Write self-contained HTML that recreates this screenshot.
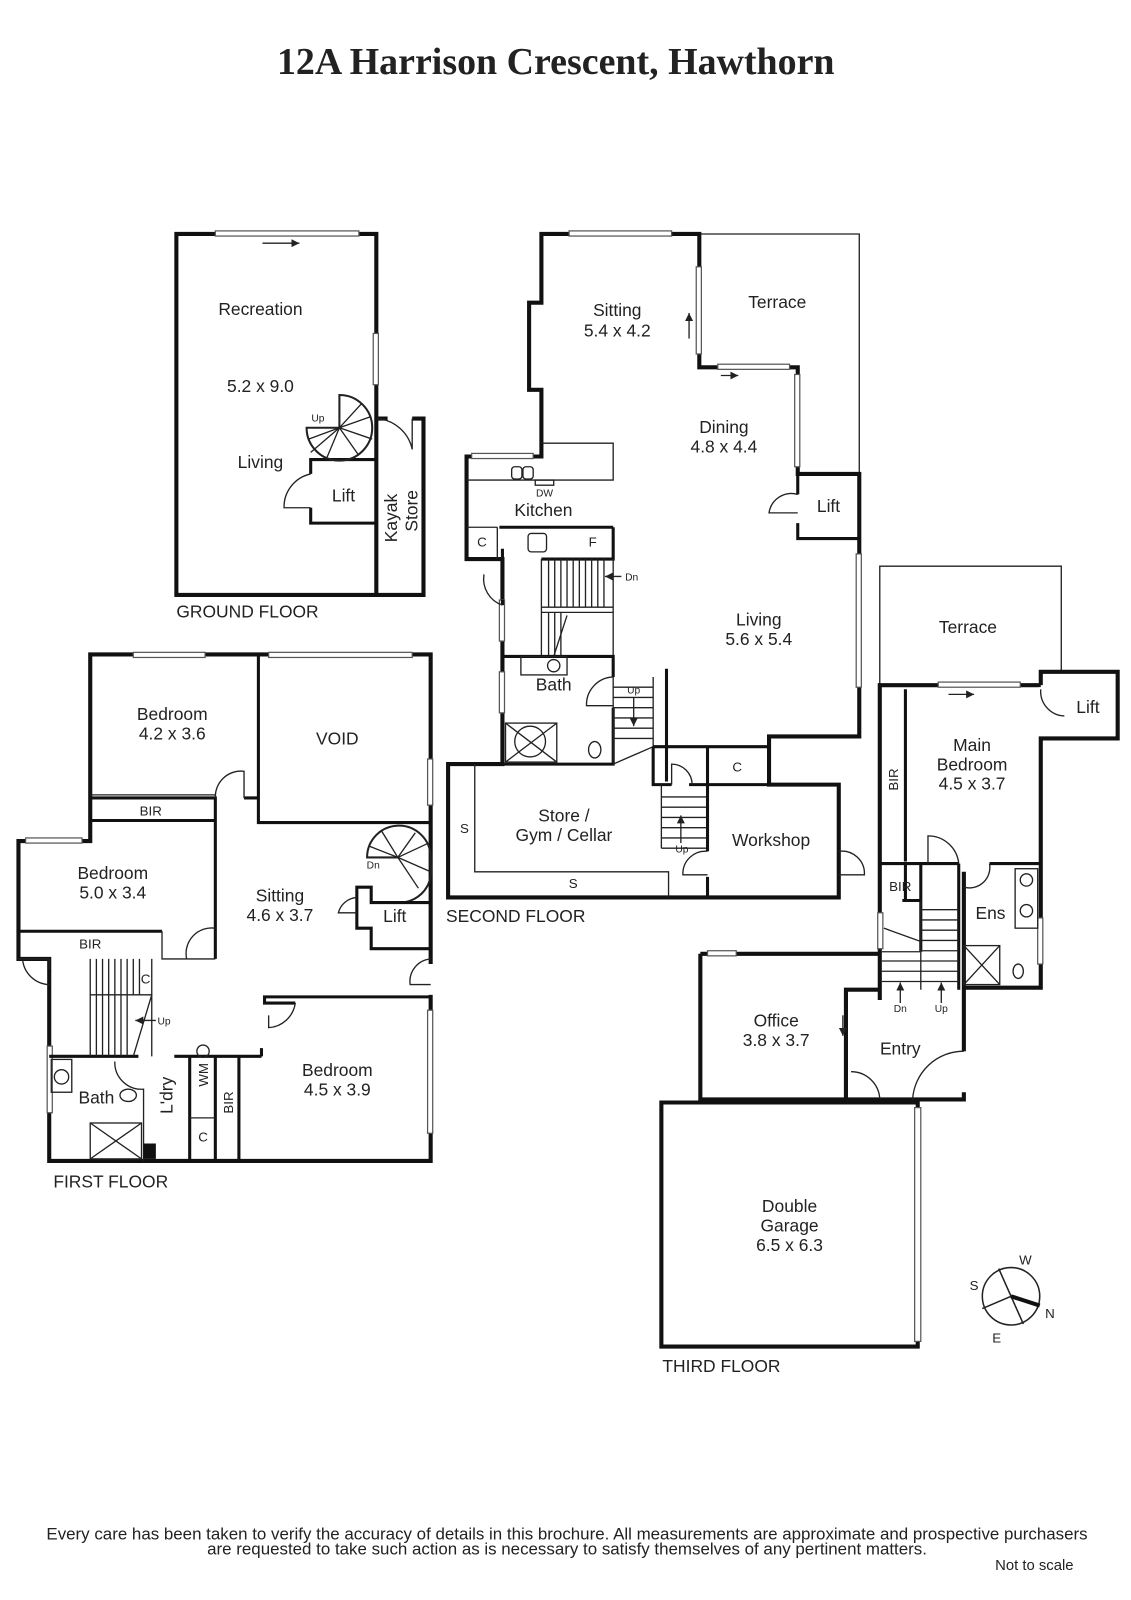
<!DOCTYPE html>
<html><head><meta charset="utf-8">
<style>
html,body{margin:0;padding:0;background:#fff;}
svg{display:block;}
text{font-family:"Liberation Sans",sans-serif;fill:#222;}
.w{fill:none;stroke:#111;stroke-width:4;stroke-linejoin:miter;}
.t{fill:none;stroke:#222;stroke-width:1.3;}
.m{fill:none;stroke:#222;stroke-width:2;}
.win{fill:#fff;stroke:#555;stroke-width:1.2;}
.r{font-size:17px;text-anchor:middle;}
.s{font-size:13px;text-anchor:middle;}
.x{font-size:10px;text-anchor:middle;}
.f{font-size:17px;}
</style></head>
<body>
<svg width="1131" height="1600" viewBox="0 0 1103 1560" xmlns="http://www.w3.org/2000/svg">
<defs><marker id="ar" markerWidth="8" markerHeight="8" refX="6" refY="3" orient="auto"><path d="M0,0 L6,3 L0,6 z" fill="#222"/></marker></defs>
<text x="542" y="72" font-weight="bold" font-size="37" text-anchor="middle" style="font-family:'Liberation Serif',serif">12A Harrison Crescent, Hawthorn</text>

<!-- GROUND FLOOR -->
<path class="w" d="M367,408 V228 H172 V580 H413 V408 H402 M367,408 H378 M367,408 V580"/>
<rect class="win" x="210" y="225" width="140" height="5"/>
<rect class="win" x="364" y="325" width="5" height="50"/>
<line class="t" x1="256" y1="237" x2="292" y2="237" marker-end="url(#ar)"/>
<path class="w" d="M367,448 H303 V462 M303,495 V510 H367" style="stroke-width:3"/>
<path class="t" d="M303,462 A33,33 0 0 0 277,495 H303"/>
<path class="t" d="M367,408 A38,38 0 0 1 402,438 V408"/>
<path class="m" d="M331,385 A32,32 0 0 1 331,449 A32,32 0 0 1 299,417 H331 Z"/>
<path class="t" d="M331,417 L353,393 M331,417 L362,406 M331,417 L363,428 M331,417 L350,444 M331,417 L318,448 M331,417 L303,441 M331,417 L301,428"/>
<text class="x" x="310" y="411">Up</text>
<text class="r" x="254" y="307">Recreation</text>
<text class="r" x="254" y="382">5.2 x 9.0</text>
<text class="r" x="254" y="456">Living</text>
<text class="r" x="335" y="489">Lift</text>
<text class="r" transform="translate(389,505) rotate(-90)" y="-2">Kayak</text>
<text class="r" transform="translate(407,498) rotate(-90)" y="0">Store</text>
<text class="f" x="172" y="602">GROUND FLOOR</text>

<!-- SECOND FLOOR -->
<path class="t" d="M682,228 H838 V462"/>
<path class="t" d="M858,668 V552 H1035 V655"/>
<path class="w" d="M682,228 H528 V295 H516 V380 H528 V445 H455 V545 H490 V745 H437 V875 H818 V765 H750 V718 H838 V462 H778 V358 H682 Z"/>
<rect class="win" x="555" y="225" width="100" height="5"/>
<rect class="win" x="679" y="260" width="5" height="85"/>
<rect class="win" x="700" y="355" width="70" height="5"/>
<rect class="win" x="775" y="365" width="5" height="90"/>
<rect class="win" x="835" y="540" width="5" height="130"/>
<rect class="win" x="460" y="442" width="60" height="5"/>
<rect class="win" x="487" y="585" width="5" height="40"/>
<rect class="win" x="487" y="655" width="5" height="40"/>
<line class="t" x1="672" y1="330" x2="672" y2="305" marker-end="url(#ar)"/>
<line class="t" x1="703" y1="366" x2="720" y2="366" marker-end="url(#ar)"/>
<path class="t" d="M528,432 H598 V468 H455"/>
<rect class="t" x="499" y="455" width="10" height="12" rx="3"/><rect class="t" x="510" y="455" width="10" height="12" rx="3"/>
<rect class="t" x="522" y="468" width="18" height="5"/>
<path class="w" d="M455,545 H490 V535 M598,514 V545 H528 V545 M487,514 H598" style="stroke-width:3"/>
<path class="t" d="M485,514 V545 M455,514 H485"/>
<rect class="t" x="515" y="520" width="18" height="18" rx="3"/>
<path class="w" d="M490,545 V557 M490,590 V585" style="stroke-width:3"/>
<path class="t" d="M472,560 A27,27 0 0 0 490,590"/>
<path class="t" d="M528,545 V640 M598,545 V640 M528,592 H598 M528,597 H598 M553,600 L540,640"/>
<path class="t" d="M535,545 V592 M541,545 V592 M547,545 V592 M553,545 V592 M559,545 V592 M565,545 V592 M571,545 V592 M577,545 V592 M583,545 V592 M589,545 V592 M535,597 V640 M541,597 V640 M547,597 V640"/>
<line class="t" x1="606" y1="562" x2="590" y2="562" marker-end="url(#ar)"/><text class="x" x="616" y="566">Dn</text>
<path class="w" d="M490,640 H598 V660 M598,690 V745 H490" style="stroke-width:3"/>
<path class="t" d="M598,660 A27,27 0 0 0 572,688 H598"/>
<rect class="t" x="508" y="640" width="45" height="18"/><circle class="t" cx="540" cy="649" r="6"/>
<rect class="t" x="493" y="705" width="50" height="38"/><circle class="t" cx="517" cy="723" r="15"/>
<path class="t" d="M493,705 L543,743 M543,705 L493,743"/>
<ellipse class="t" cx="580" cy="731" rx="6" ry="8"/>
<path class="t" d="M598,660 V745 M637,660 V728 M598,670 H637 M598,680 H637 M598,690 H637 M598,700 H637 M598,710 H637 M598,720 H637 M598,745 L637,728"/>
<path class="w" d="M650,652 V762 M637,728 V765 H655 M672,765 H690 V728 M690,765 H750 M637,728 H750" style="stroke-width:3"/>
<path class="t" d="M655,765 V745 A20,20 0 0 1 675,765"/>
<line class="t" x1="618" y1="680" x2="618" y2="708" marker-end="url(#ar)"/><text class="x" x="618" y="676">Up</text>
<path class="t" d="M645,777 H690 M645,787 H690 M645,797 H690 M645,807 H690 M645,817 H690 M645,827 H690 M645,765 V827"/>
<line class="t" x1="664" y1="822" x2="664" y2="795" marker-end="url(#ar)"/><text class="x" x="665" y="831">Up</text>
<path class="w" d="M690,765 V830 M690,855 V875 M818,830 V855" style="stroke-width:3"/>
<path class="t" d="M690,830 A22,22 0 0 0 666,853 H690 M818,830 A22,22 0 0 1 843,853 H818"/>
<path class="t" d="M463,745 V850 H652 V875"/>
<path class="w" d="M778,462 V482 M778,510 V525 H838" style="stroke-width:3"/>
<path class="t" d="M778,482 A22,22 0 0 0 750,500 H778"/>
<text class="r" x="602" y="308">Sitting</text><text class="r" x="602" y="328">5.4 x 4.2</text>
<text class="r" x="758" y="300">Terrace</text>
<text class="r" x="706" y="422">Dining</text><text class="r" x="706" y="441">4.8 x 4.4</text>
<text class="r" x="808" y="499">Lift</text>
<text class="x" x="531" y="484">DW</text>
<text class="r" x="530" y="503">Kitchen</text>
<text class="s" x="470" y="533">C</text><text class="s" x="578" y="533">F</text>
<text class="r" x="740" y="610">Living</text><text class="r" x="740" y="629">5.6 x 5.4</text>
<text class="r" x="540" y="673">Bath</text>
<text class="s" x="719" y="752">C</text>
<text class="r" x="550" y="801">Store /</text><text class="r" x="550" y="820">Gym / Cellar</text>
<text class="r" x="752" y="825">Workshop</text>
<text class="s" x="453" y="812">S</text><text class="s" x="559" y="866">S</text>
<text class="f" x="435" y="899">SECOND FLOOR</text>

<!-- FIRST FLOOR -->
<path class="w" d="M420,940 V638 H88 V820 H18 V935 H48 V1132 H420 V970"/>
<rect class="win" x="130" y="636" width="70" height="5"/><rect class="win" x="262" y="636" width="140" height="5"/>
<rect class="win" x="25" y="817" width="55" height="5"/><rect class="win" x="417" y="740" width="5" height="45"/>
<rect class="win" x="417" y="985" width="5" height="120"/><rect class="win" x="46" y="1020" width="5" height="65"/>
<path class="w" d="M252,638 V802 H420 M88,778 H210 V935 M88,800 H210 M238,778 H252 M18,908 H158" style="stroke-width:3"/>
<path class="t" d="M88,775 H210 M210,778 A25,25 0 0 1 238,752 V778"/>
<path class="t" d="M210,905 A25,25 0 0 0 182,935 H210 M158,908 V935 H182"/>
<path class="t" d="M18,935 H48 V945 M22,935 A27,27 0 0 0 48,960"/>
<path class="m" d="M388,805 A31,31 0 0 1 420,836 V843 A31,31 0 0 1 388,880 M388,836 H358 A31,31 0 0 1 388,805"/>
<path class="t" d="M388,836 L405,812 M388,836 L418,822 M388,836 L420,850 M388,836 L408,866 M388,836 L372,810 M388,836 L360,825"/>
<text class="x" x="364" y="847">Dn</text>
<path class="w" d="M420,880 H362 V865 H348 V905 H362 V925 H420 M348,890 V905" style="stroke-width:3"/>
<path class="t" d="M348,875 A20,20 0 0 0 330,890 H348 M420,935 A22,22 0 0 0 400,960 H420"/>
<path class="w" d="M420,972 H258 V978 H288 M255,1030 V1022 M48,1030 H135 M170,1030 H255 M185,1030 V1132 M210,1030 V1132 M233,1030 V1132" style="stroke-width:3"/>
<path class="t" d="M288,978 A28,28 0 0 1 262,1002 V990 M88,935 V1030 M148,935 V970 M88,970 H148 L130,1030 M148,970 V1030"/>
<path class="t" d="M94,970 V1030 M100,970 V1030 M106,970 V1030 M112,970 V1030 M118,970 V1030 M124,970 V1030 M94,935 V970 M100,935 V970 M106,935 V970 M112,935 V970 M118,935 V970 M124,935 V970 M130,935 V970 M136,935 V970"/>
<line class="t" x1="152" y1="995" x2="132" y2="995" marker-end="url(#ar)"/><text class="x" x="160" y="999">Up</text>
<path class="t" d="M112,1035 A26,26 0 0 0 140,1062 V1132 M185,1090 H210"/>
<rect class="t" x="50" y="1033" width="20" height="32"/><circle class="t" cx="60" cy="1050" r="7"/>
<ellipse class="t" cx="125" cy="1068" rx="8" ry="6"/>
<rect class="t" x="88" y="1095" width="50" height="35"/><path class="t" d="M88,1095 L138,1130 M138,1095 L88,1130"/>
<rect x="140" y="1115" width="12" height="15" fill="#111"/>
<text class="r" x="168" y="702">Bedroom</text><text class="r" x="168" y="721">4.2 x 3.6</text>
<text class="r" x="329" y="726">VOID</text>
<text class="s" x="147" y="795">BIR</text>
<text class="r" x="110" y="857">Bedroom</text><text class="r" x="110" y="876">5.0 x 3.4</text>
<text class="s" x="88" y="925">BIR</text>
<text class="r" x="273" y="879">Sitting</text><text class="r" x="273" y="898">4.6 x 3.7</text>
<text class="r" x="385" y="899">Lift</text>
<text class="s" x="142" y="959">C</text>
<text class="r" x="329" y="1049">Bedroom</text><text class="r" x="329" y="1068">4.5 x 3.9</text>
<text class="r" x="94" y="1076">Bath</text>
<text class="r" transform="translate(168,1068) rotate(-90)">L'dry</text>
<text class="s" transform="translate(203,1048) rotate(-90)">WM</text>
<circle class="t" cx="198" cy="1025" r="6"/>
<text class="s" transform="translate(227,1075) rotate(-90)">BIR</text>
<text class="s" x="198" y="1113">C</text>
<text class="f" x="52" y="1158">FIRST FLOOR</text>

<!-- THIRD FLOOR -->
<path class="w" d="M1015,668 H858 V975 M858,975 V965 H825 V1072 H940 V1065 M883,1072 H858 M1015,668 V655 H1090 V720 H1015 V963 H940 V850 M940,963 V1025"/>
<rect class="win" x="915" y="665" width="80" height="5"/>
<line class="t" x1="925" y1="677" x2="950" y2="677" marker-end="url(#ar)"/>
<rect class="win" x="1012" y="895" width="5" height="45"/>
<rect class="win" x="856" y="890" width="5" height="35"/>
<path class="w" d="M1015,670 V672 M1015,698 V700" style="stroke:#fff;stroke-width:5"/>
<path class="t" d="M1015,672 A24,24 0 0 0 1038,698"/>
<path class="w" d="M858,842 H935 M1015,842 H965 M883,672 V840 M880,878 H898 M898,842 V928 M935,842 V965 M883,842 V878" style="stroke-width:3"/>
<path class="t" d="M905,842 V815 A30,30 0 0 1 935,842 M965,842 A20,20 0 0 1 940,865"/>
<path class="t" d="M898,878 V965 M898,887 H935 M898,897 H935 M898,907 H935 M898,917 H935 M898,927 H935 M898,937 H935 M898,947 H935 M898,957 H935 M860,928 H898 M860,937 H898 M860,947 H898 M860,957 H898 M862,905 L898,918"/>
<line class="t" x1="878" y1="978" x2="878" y2="958" marker-end="url(#ar)"/><text class="x" x="878" y="987">Dn</text>
<line class="t" x1="918" y1="978" x2="918" y2="958" marker-end="url(#ar)"/><text class="x" x="918" y="987">Up</text>
<rect class="t" x="990" y="847" width="22" height="58"/><circle class="t" cx="1001" cy="858" r="6"/><circle class="t" cx="1001" cy="888" r="6"/>
<rect class="t" x="940" y="922" width="35" height="38"/><path class="t" d="M940,922 L975,960 M975,922 L940,960"/>
<ellipse class="t" cx="993" cy="947" rx="5" ry="7"/>
<path class="w" d="M683,930 H858 M683,930 V1072 H825 M645,1075 H895 V1313 H645 Z"/>
<rect class="win" x="690" y="927" width="28" height="5"/>
<rect class="win" x="892" y="1080" width="6" height="228"/>
<path class="t" d="M822,990 V1010" marker-end="url(#ar)"/>
<path class="t" d="M940,1025 A50,50 0 0 0 890,1072 M830,1045 A28,28 0 0 1 858,1072"/>
<text class="r" x="948" y="732">Main</text><text class="r" x="948" y="751">Bedroom</text><text class="r" x="948" y="770">4.5 x 3.7</text>
<text class="r" x="944" y="617">Terrace</text>
<text class="r" x="1061" y="695">Lift</text>
<text class="s" transform="translate(876,760) rotate(-90)">BIR</text>
<text class="s" x="878" y="869">BIR</text>
<text class="r" x="966" y="896">Ens</text>
<text class="r" x="757" y="1001">Office</text><text class="r" x="757" y="1020">3.8 x 3.7</text>
<text class="r" x="878" y="1028">Entry</text>
<text class="r" x="770" y="1182">Double</text><text class="r" x="770" y="1201">Garage</text><text class="r" x="770" y="1220">6.5 x 6.3</text>
<text class="f" x="646" y="1338">THIRD FLOOR</text>

<!-- compass -->
<circle cx="986" cy="1264" r="28" fill="none" stroke="#222" stroke-width="1.5"/>
<line x1="974" y1="1237" x2="998" y2="1291" stroke="#222" stroke-width="1.5"/>
<line x1="958" y1="1276" x2="986" y2="1264" stroke="#222" stroke-width="1.5"/>
<line x1="986" y1="1264" x2="1014" y2="1273" stroke="#111" stroke-width="4"/>
<text class="s" font-size="16" x="1000" y="1233">W</text><text class="s" x="950" y="1258" font-size="16">S</text>
<text class="s" x="1024" y="1285" font-size="16">N</text><text class="s" x="972" y="1309" font-size="16">E</text>

<text x="553" y="1501" font-size="16.5" text-anchor="middle">Every care has been taken to verify the accuracy of details in this brochure.  All measurements are approximate and prospective purchasers</text>
<text x="553" y="1516" font-size="16.5" text-anchor="middle">are requested to take such action as is necessary to satisfy themselves of any pertinent matters.</text>
<text x="1047" y="1531" font-size="14.5" text-anchor="end">Not to scale</text>
</svg>
</body></html>
